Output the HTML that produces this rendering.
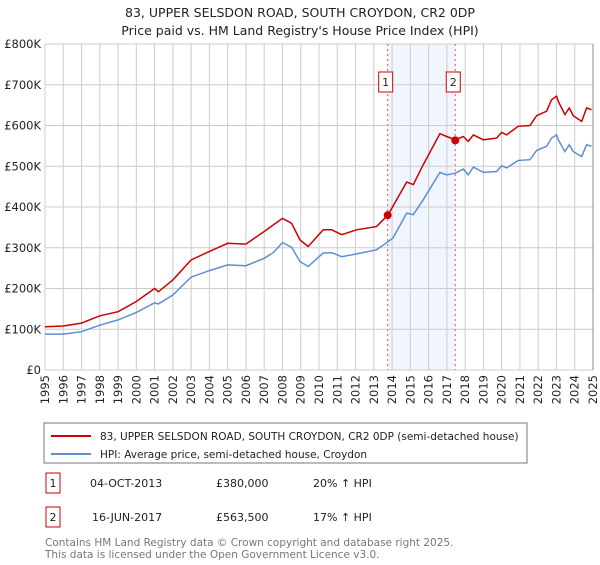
<!DOCTYPE html>
<html><head><meta charset="utf-8"><style>
body{margin:0;background:#fff;font-family:"Liberation Sans","DejaVu Sans",sans-serif;}
svg text{font-family:"DejaVu Sans","Liberation Sans",sans-serif;}
</style></head><body>
<svg id="chart" width="600" height="560" viewBox="0 0 600 560">
<text x="300" y="17" text-anchor="middle" font-size="12.5" fill="#222">83, UPPER SELSDON ROAD, SOUTH CROYDON, CR2 0DP</text>
<text x="300" y="35" text-anchor="middle" font-size="12.5" fill="#222">Price paid vs. HM Land Registry's House Price Index (HPI)</text>
<g id="grid"></g><g id="marks"></g>
<rect x="44" y="423" width="483" height="40" fill="#fff" stroke="#777"/>
<line x1="51" y1="436" x2="91" y2="436" stroke="#cc0000" stroke-width="2"/>
<text x="100" y="440" font-size="10.5" fill="#222">83, UPPER SELSDON ROAD, SOUTH CROYDON, CR2 0DP (semi-detached house)</text>
<line x1="51" y1="454" x2="91" y2="454" stroke="#5b8fd4" stroke-width="2"/>
<text x="100" y="458" font-size="10.5" fill="#222">HPI: Average price, semi-detached house, Croydon</text>
<g>
<rect x="46" y="473" width="14" height="20" fill="#fff" stroke="#cc0000"/>
<text x="53" y="487" text-anchor="middle" font-size="11" fill="#222">1</text>
<text x="90" y="487" font-size="11" fill="#222">04-OCT-2013</text>
<text x="216" y="487" font-size="11" fill="#222">£380,000</text>
<text x="313" y="487" font-size="11" fill="#222">20% ↑ HPI</text></g>
<g>
<rect x="46" y="507" width="14" height="20" fill="#fff" stroke="#cc0000"/>
<text x="53" y="521" text-anchor="middle" font-size="11" fill="#222">2</text>
<text x="92" y="521" font-size="11" fill="#222">16-JUN-2017</text>
<text x="216" y="521" font-size="11" fill="#222">£563,500</text>
<text x="313" y="521" font-size="11" fill="#222">17% ↑ HPI</text></g>
<text x="45" y="546" font-size="10.5" fill="#777">Contains HM Land Registry data © Crown copyright and database right 2025.</text>
<text x="45" y="558" font-size="10.5" fill="#777">This data is licensed under the Open Government Licence v3.0.</text>
</svg>
<script>
const yTicks=[0,100,200,300,400,500,600,700,800];
const yLabels=["£0","£100K","£200K","£300K","£400K","£500K","£600K","£700K","£800K"];
const years=[1995,1996,1997,1998,1999,2000,2001,2002,2003,2004,2005,2006,2007,2008,2009,2010,2011,2012,2013,2014,2015,2016,2017,2018,2019,2020,2021,2022,2023,2024,2025];
const propT=[1995,1996,1997,1998,1999,2000,2001,2001.2,2002,2003,2004,2005,2006,2007,2007.5,2008,2008.5,2008.96,2009.41,2010.23,2010.69,2011.24,2012.06,2013.15,2013.79,2014.25,2014.8,2015.16,2015.71,2016.62,2016.99,2017.46,2017.9,2018.17,2018.45,2019,2019.72,2020,2020.27,2020.9,2021.55,2021.91,2022.46,2022.73,2023,2023.1,2023.46,2023.7,2023.92,2024.38,2024.65,2024.92];
const propV=[106,108,115,133,143,168,200,192,221,270,291,311,309,340,356,372,360,319,303,344,344,332,344,352,381,418,461,455,504,580,573,565,573,561,577,565,569,583,577,598,600,624,635,663,672,659,627,643,624,610,643,639];
const hpiT=[1995,1996,1997,1998,1999,2000,2001,2001.2,2002,2003,2004,2005,2006,2007,2007.5,2008,2008.5,2008.96,2009.41,2010.23,2010.69,2011.24,2012.06,2013.15,2013.79,2014.05,2014.8,2015.16,2015.71,2016.62,2016.99,2017.46,2017.9,2018.17,2018.45,2019,2019.72,2020,2020.27,2020.9,2021.55,2021.91,2022.46,2022.73,2023,2023.1,2023.46,2023.7,2023.92,2024.38,2024.65,2024.92];
const hpiV=[88,88,94,110,123,141,165,162,184,228,244,258,256,274,288,313,301,266,254,287,288,278,285,295,315,324,385,381,418,485,479,483,493,479,498,485,487,501,496,514,516,539,549,569,577,565,536,553,536,524,553,549];
const saleT=[2013.76,2017.46];
const saleV=[380,563.5];
const saleLabels=["1","2"];
const NS="http://www.w3.org/2000/svg";
const X0=45,X1=593,Y0=370,Y1=44;
const xs=t=>X0+(t-1995)/30*(X1-X0);
const ys=v=>Y0-v/800*(Y0-Y1);
function mk(tag,attrs,parent){const e=document.createElementNS(NS,tag);for(const k in attrs)e.setAttribute(k,attrs[k]);parent.appendChild(e);return e;}
const grid=document.getElementById('grid'),marks=document.getElementById('marks');
const shade=mk('rect',{x:xs(saleT[0]),y:Y1,width:xs(saleT[1])-xs(saleT[0]),height:Y0-Y1,fill:'#eef3fc',opacity:0.8},grid);


yTicks.forEach((v,i)=>{
 const l=mk('line',{x1:X0,x2:X1,y1:ys(v),y2:ys(v),stroke:'#cccccc'},grid);
 
 
 const t=mk('text',{x:X0-4,y:ys(v)+4,'text-anchor':'end','font-size':'11.5',fill:'#222'},grid);
 t.textContent=yLabels[i];
 
 
});
years.forEach(y=>{
 const l=mk('line',{x1:xs(y),x2:xs(y),y1:Y1,y2:Y0,stroke:'#cccccc'},grid);
 
 
 const t=mk('text',{x:0,y:0,'text-anchor':'end','font-size':'11.5',fill:'#222',transform:`translate(${xs(y)+4},${Y0+5}) rotate(-90)`},grid);
 t.textContent=y;
 
 
});
const ax=mk('line',{x1:X1,x2:X1,y1:Y1,y2:Y0,stroke:'#888'},grid);


saleT.forEach((t,i)=>{
 const l=mk('line',{x1:xs(t),x2:xs(t),y1:Y1,y2:Y0,stroke:'#ee5555','stroke-dasharray':'2,3'},marks);
 
 
 const r=mk('rect',{x:xs(t)-9,y:72,width:14,height:20,fill:'#fff',stroke:'#cc0000'},marks);
 
 
 const tx=mk('text',{x:xs(t)-2,y:86,'text-anchor':'middle','font-size':'11',fill:'#222'},marks);
 tx.textContent=saleLabels[i];
 
 
});
const path=(T,V)=>T.map((t,i)=>(i?'L':'M')+xs(t).toFixed(1)+','+ys(V[i]).toFixed(1)).join(' ');
const hp=mk('path',{d:path(hpiT,hpiV),fill:'none',stroke:'#5b8fd4','stroke-width':1.5},marks);


const pp=mk('path',{d:path(propT,propV),fill:'none',stroke:'#cc0000','stroke-width':1.5},marks);


saleT.forEach((t,i)=>{
 const c=mk('circle',{cx:xs(t),cy:ys(saleV[i]),r:4,fill:'#cc0000'},marks);
 
 
});
</script>
</body></html>
